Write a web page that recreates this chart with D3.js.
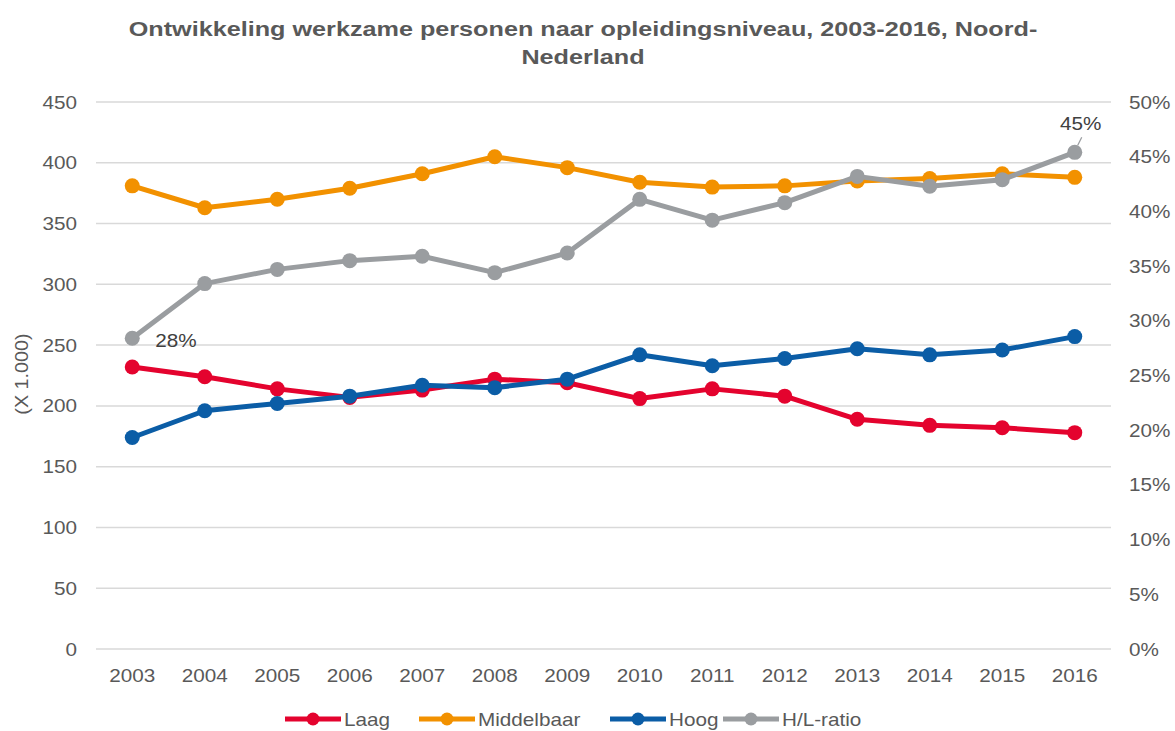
<!DOCTYPE html>
<html>
<head>
<meta charset="utf-8">
<script src="https://cdn.jsdelivr.net/npm/d3@7"></script>
<style>
  html, body { margin: 0; padding: 0; background: #fff; }
  svg { display: block; }
  text { font-family: "Liberation Sans", Arial, sans-serif; fill: #595959; }
</style>
</head>
<body>
<svg id="chart" width="1175" height="731"></svg>
<script>
const years = [2003, 2004, 2005, 2006, 2007, 2008, 2009, 2010, 2011, 2012, 2013, 2014, 2015, 2016];
const laag = [232, 224, 214, 207, 213, 222, 219, 206, 214, 208, 189, 184, 182, 178];
const middelbaar = [381, 363, 370, 379, 391, 405, 396, 384, 380, 381, 385, 387, 391, 388];
const hoog = [174, 196, 202, 208, 217, 215, 222, 242, 233, 239, 247, 242, 246, 257];
const hlRatio = [0.284, 0.334, 0.347, 0.355, 0.359, 0.344, 0.362, 0.411, 0.392, 0.408, 0.432, 0.423, 0.429, 0.454];
const leftTicks = [0, 50, 100, 150, 200, 250, 300, 350, 400, 450];
const rightTicks = [0, 0.05, 0.10, 0.15, 0.20, 0.25, 0.30, 0.35, 0.40, 0.45, 0.50];
const seriesNames = ["Laag", "Middelbaar", "Hoog", "H/L-ratio"];
const seriesColors = ["#E4032E", "#F29100", "#0B5DA6", "#9A9DA0"];
const titleLines = ["Ontwikkeling werkzame personen naar opleidingsniveau, 2003-2016, Noord-", "Nederland"];
const yTitle = "(X 1.000)";

const SX = 1.15;
const svg = d3.select("#chart");
const plot = { left: 96, right: 1111, top: 102, bottom: 649 };

const x = d3.scalePoint().domain(years).range([plot.left, plot.right]).padding(0.5);
const yL = d3.scaleLinear().domain([0, 450]).range([plot.bottom, plot.top]);
const yR = d3.scaleLinear().domain([0, 0.5]).range([plot.bottom, plot.top]);
const pct = v => Math.floor(v * 100 + 0.5 - 1e-9) + "%";

function label(g, tx, ty, str, opts = {}) {
  const t = g.append("text")
    .attr("transform", `translate(${tx},${ty}) scale(${opts.sx || SX},1)`)
    .attr("text-anchor", opts.anchor || "start")
    .style("font-size", (opts.size || 18) + "px")
    .text(str);
  if (opts.bold) t.style("font-weight", "bold");
  if (opts.fill) t.style("fill", opts.fill);
  return t;
}

// gridlines
const grid = svg.append("g");
grid.selectAll("line").data(leftTicks).enter().append("line")
  .attr("x1", plot.left).attr("x2", plot.right)
  .attr("y1", d => yL(d)).attr("y2", d => yL(d))
  .attr("stroke", "#D9D9D9").attr("stroke-width", 1.5);

// left axis labels
const gl = svg.append("g");
leftTicks.forEach(v => label(gl, 77, yL(v) + 6.5, String(v), { anchor: "end" }));

// right axis labels
const gr = svg.append("g");
rightTicks.forEach(v => label(gr, 1129, yR(v) + 6.5, d3.format(".0%")(v), { anchor: "start" }));

// x labels
const gx = svg.append("g");
years.forEach(yv => label(gx, x(yv), 682, String(yv), { anchor: "middle" }));

// axis title
svg.append("text")
  .attr("transform", `translate(28,374) rotate(-90) scale(1.1,1)`)
  .attr("text-anchor", "middle")
  .style("font-size", "18px")
  .text(yTitle);

// title
const gt = svg.append("g");
label(gt, 583, 36, titleLines[0], { anchor: "middle", bold: true, size: 21, sx: 1.2 });
label(gt, 583, 64, titleLines[1], { anchor: "middle", bold: true, size: 21, sx: 1.2 });

// series
const series = [
  { values: laag, scale: yL },
  { values: middelbaar, scale: yL },
  { values: hoog, scale: yL },
  { values: hlRatio, scale: yR }
];
series.forEach((s, i) => {
  const g = svg.append("g");
  const line = d3.line().x((d, j) => x(years[j])).y(d => s.scale(d));
  g.append("path").datum(s.values)
    .attr("d", line).attr("fill", "none")
    .attr("stroke", seriesColors[i]).attr("stroke-width", 5)
    .attr("stroke-linejoin", "round");
  g.selectAll("circle").data(s.values).enter().append("circle")
    .attr("cx", (d, j) => x(years[j])).attr("cy", d => s.scale(d))
    .attr("r", 7.5).attr("fill", seriesColors[i]);
});

// data labels on H/L-ratio
const gd = svg.append("g");
const first = 0, last = years.length - 1;
label(gd, x(years[first]) + 23, yR(hlRatio[first]) + 9, pct(hlRatio[first]), { fill: "#404040" });
gd.append("line")
  .attr("x1", x(years[last]) + 3).attr("y1", yR(hlRatio[last]) - 7)
  .attr("x2", x(years[last]) + 7).attr("y2", yR(hlRatio[last]) - 15)
  .attr("stroke", "#9A9DA0").attr("stroke-width", 1.2);
label(gd, x(years[last]) + 6, yR(hlRatio[last]) - 22, pct(hlRatio[last]), { anchor: "middle", fill: "#404040" });

// legend
const legendX = [285, 419, 610, 723];
const lg = svg.append("g");
seriesNames.forEach((n, i) => {
  const lx = legendX[i];
  lg.append("line").attr("x1", lx).attr("x2", lx + 56)
    .attr("y1", 719).attr("y2", 719)
    .attr("stroke", seriesColors[i]).attr("stroke-width", 5);
  lg.append("circle").attr("cx", lx + 28).attr("cy", 719).attr("r", 6.5)
    .attr("fill", seriesColors[i]);
  label(lg, lx + 59, 725.5, n, { anchor: "start" });
});
</script>
</body>
</html>
